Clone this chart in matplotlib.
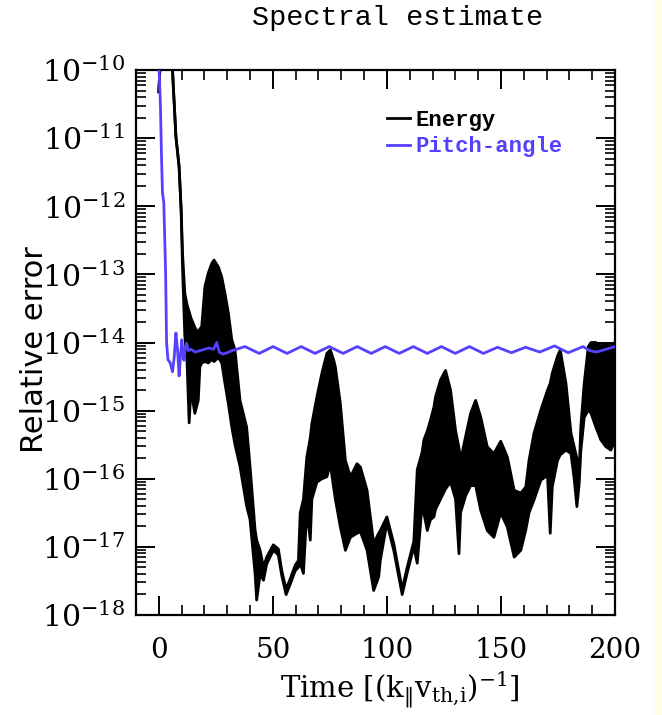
import numpy as np
import matplotlib
matplotlib.use("Agg")
import matplotlib.pyplot as plt
from matplotlib.ticker import MultipleLocator, FixedLocator, LogLocator, NullFormatter
from matplotlib.lines import Line2D
from matplotlib.patches import Rectangle

plt.rcParams['font.family'] = ['DejaVu Serif']
plt.rcParams['mathtext.fontset'] = 'dejavuserif'

# energy error: upper / lower envelope of the fast oscillation (log10 values)
energy_t = [0, 1, 3, 5, 6, 7.5, 8.9, 9.8, 10.4, 11.4, 12.4, 13.3, 14.2, 15.1, 15.8,
            17.3, 18.0, 18.8, 20.2, 21.7, 23.2, 24.2, 26.1, 27.6, 29.0, 30.5, 32.0,
            33.4, 35.6, 38.5, 40.0, 42.2, 42.9, 44.4, 45.9, 47.3, 50.2, 52.4, 53.9,
            55.8, 57.6, 59.8, 61.2, 62.0, 63.4, 64.9, 66.4, 67.1, 69.3, 71.5, 73.7,
            75.2, 76.6, 77.4, 79.6, 81.8, 84.0, 86.9, 88.4, 91.3, 94.2, 96.4, 97.1,
            100.0, 103.0, 106.7, 108.9, 111.8, 113.3, 115.5, 116.2, 117.7, 119.1,
            120.6, 121.3, 123.5, 125.7, 127.9, 130.1, 131.6, 132.3, 134.5, 136.7,
            138.9, 141.1, 144.0, 146.9, 149.9, 152.8, 155.8, 158.7, 160.9, 162.3,
            164.5, 167.5, 170.4, 171.6, 172.5, 174.8, 176.0, 178.5, 180.7, 182.1,
            183.3, 184.3, 185.0, 186.5, 188.3, 189.5, 191.6, 193.8, 196.0, 198.2, 200.0]
energy_hi = [-10.32, -9.6, -9.4, -9.7, -10.0, -10.98, -11.42, -12.06, -12.69, -13.28,
             -13.45, -13.55, -13.65, -13.72, -13.78, -13.86, -13.8, -13.77, -13.18,
             -12.98, -12.84, -12.79, -12.89, -13.04, -13.28, -13.57, -13.96, -14.11,
             -14.85, -15.24, -15.82, -16.75, -16.9, -17.05, -17.3, -17.15, -16.97,
             -17.03, -17.35, -17.62, -17.47, -17.27, -17.2, -16.5, -16.3, -15.68,
             -15.4, -15.19, -14.8, -14.45, -14.16, -14.11, -14.25, -14.36, -14.9,
             -15.73, -15.97, -15.78, -15.83, -16.17, -16.95, -16.8, -16.76, -16.56,
             -16.95, -17.62, -17.3, -16.92, -15.87, -15.6, -15.43, -15.3, -15.14,
             -14.95, -14.8, -14.55, -14.41, -14.7, -15.29, -15.55, -15.73, -15.38,
             -15.04, -14.85, -15.09, -15.53, -15.63, -15.45, -15.68, -16.17, -16.21,
             -16.12, -15.73, -15.33, -14.99, -14.7, -14.6, -14.45, -14.2, -14.11,
             -14.6, -15.33, -15.53, -15.7, -15.9, -15.24, -14.6, -14.06, -14.0,
             -14.0, -14.05, -14.02, -14.05, -14.0]
energy_lo = [-10.32, -9.6, -9.4, -9.7, -10.0, -10.98, -11.42, -12.06, -12.9, -13.9,
             -14.3, -15.18, -14.6, -14.9, -15.04, -14.85, -14.36, -14.3, -14.28,
             -14.3, -14.25, -14.28, -14.22, -14.3, -14.6, -14.9, -15.24, -15.5,
             -15.82, -16.4, -16.6, -17.39, -17.78, -17.4, -17.49, -17.25, -17.05,
             -17.12, -17.42, -17.7, -17.55, -17.35, -17.3, -17.24, -17.39, -16.46,
             -16.9, -16.3, -16.05, -16.0, -15.97, -15.78, -16.12, -16.3, -16.71,
             -17.05, -16.86, -16.8, -16.78, -17.05, -17.64, -17.44, -17.2, -16.65,
             -17.05, -17.7, -17.38, -17.0, -17.24, -16.36, -16.5, -16.76, -16.6,
             -16.56, -16.45, -16.3, -16.15, -16.05, -16.3, -17.1, -16.5, -16.25,
             -16.1, -16.1, -16.46, -16.76, -16.86, -16.5, -16.71, -17.15, -17.05,
             -16.75, -16.5, -16.31, -16.02, -15.95, -16.8, -16.12, -15.73, -15.65,
             -15.58, -15.63, -16.0, -16.41, -16.07, -15.6, -15.1, -14.99, -15.04,
             -15.24, -15.43, -15.53, -15.58, -15.43]

# pitch-angle error (log10 values)
pitch_t = [0, 0.7, 1.2, 1.6, 2.2, 3.0, 3.4, 4.0, 5.0, 6.0, 6.8, 7.5, 8.2, 8.9, 9.5,
           10.1, 10.6, 11.0, 11.6, 12.2, 13.0, 14.0, 16.0, 18.0, 20.0, 22.0, 24.0,
           25.4, 26.5, 28.0, 30.0, 32.0, 34.0, 37.8, 44.0, 50.1, 56.2, 62.4, 68.5,
           74.7, 80.8, 87.0, 93.1, 99.3, 105.4, 111.6, 117.7, 123.9, 130.0, 136.2,
           142.3, 148.5, 154.6, 160.8, 167.0, 173.5, 179.5, 186.0, 189.0, 192.0,
           196.0, 200.0]
pitch_val = [-9.9, -10.5, -11.3, -11.8, -11.95, -13.0, -14.0, -14.25, -14.3, -14.43,
             -14.2, -13.86, -14.1, -14.49, -14.2, -13.96, -14.15, -14.26, -14.1,
             -14.01, -14.12, -14.1, -14.14, -14.12, -14.1, -14.08, -14.1, -14.0,
             -14.14, -14.17, -14.15, -14.12, -14.1, -14.06, -14.16, -14.06, -14.16,
             -14.06, -14.16, -14.06, -14.16, -14.06, -14.16, -14.06, -14.16, -14.06,
             -14.16, -14.06, -14.16, -14.06, -14.16, -14.07, -14.15, -14.07, -14.14,
             -14.05, -14.15, -14.06, -14.12, -14.14, -14.1, -14.06]

series_names = ['Energy', 'Pitch-angle']
series_colors = ['black', '#5540ff']
y_decades = [-18, -17, -16, -15, -14, -13, -12, -11, -10]

fig = plt.figure(figsize=(6.62, 7.15), dpi=100)
fig.patches.append(Rectangle((655 / 662, 0), 7 / 662, 1, transform=fig.transFigure,
                             color='#fffde2', zorder=0))
ax = fig.add_axes([136 / 662, 1 - 615 / 715, 479 / 662, 545 / 715])

e_t = np.array(energy_t)
e_hi = 10.0 ** np.array(energy_hi)
e_lo = 10.0 ** np.array(energy_lo)
ax.fill_between(e_t, e_lo, e_hi, color=series_colors[0], lw=0)
ax.plot(e_t, e_hi, color=series_colors[0], lw=2.0)
ax.plot(e_t, e_lo, color=series_colors[0], lw=2.0)
ax.plot(pitch_t, 10.0 ** np.array(pitch_val), color=series_colors[1], lw=2.0, zorder=5)

ax.set_yscale('log')
ax.set_xlim(-10, 200)
ax.set_ylim(1e-18, 1e-10)
ax.xaxis.set_major_locator(MultipleLocator(50))
ax.xaxis.set_minor_locator(MultipleLocator(10))
ax.yaxis.set_major_locator(FixedLocator([10.0 ** d for d in y_decades]))
ax.yaxis.set_minor_locator(LogLocator(base=10, subs=np.arange(2, 10), numticks=200))
ax.yaxis.set_minor_formatter(NullFormatter())
ax.tick_params(which='both', direction='in', top=True, right=True)
ax.tick_params(which='major', length=14, width=1.4, labelsize=20)
ax.tick_params(which='minor', length=7, width=1.2)
ax.tick_params(axis='x', which='major', pad=16)
ax.tick_params(axis='y', which='major', pad=8, labelsize=21.5)
for s in ax.spines.values():
    s.set_linewidth(1.6)

handles = [Line2D([], [], color=c, lw=2) for c in series_colors]
ax.legend(handles, series_names, loc='upper left', bbox_to_anchor=(0.524, 0.927),
          frameon=False, borderpad=0, borderaxespad=0, handlelength=1.05,
          handletextpad=0.25, labelspacing=0.25, labelcolor='linecolor',
          prop={'family': 'Liberation Mono', 'weight': 'bold', 'size': 16})

fig.text(398 / 662, 1 - 18 / 715, 'Spectral estimate', family='Liberation Mono',
         fontsize=20.5, ha='center', va='center')
fig.text(400 / 662, 1 - 690 / 715,
         r'Time $[(\mathrm{k}_{\|}\mathrm{v}_{\mathrm{th{,}i}})^{-1}]$',
         fontsize=21, ha='center', va='center')
fig.text(35 / 662, 1 - 350 / 715, 'Relative error', family='DejaVu Sans',
         fontsize=22, rotation=90, ha='center', va='center')

fig.savefig('out.png', dpi=100)
